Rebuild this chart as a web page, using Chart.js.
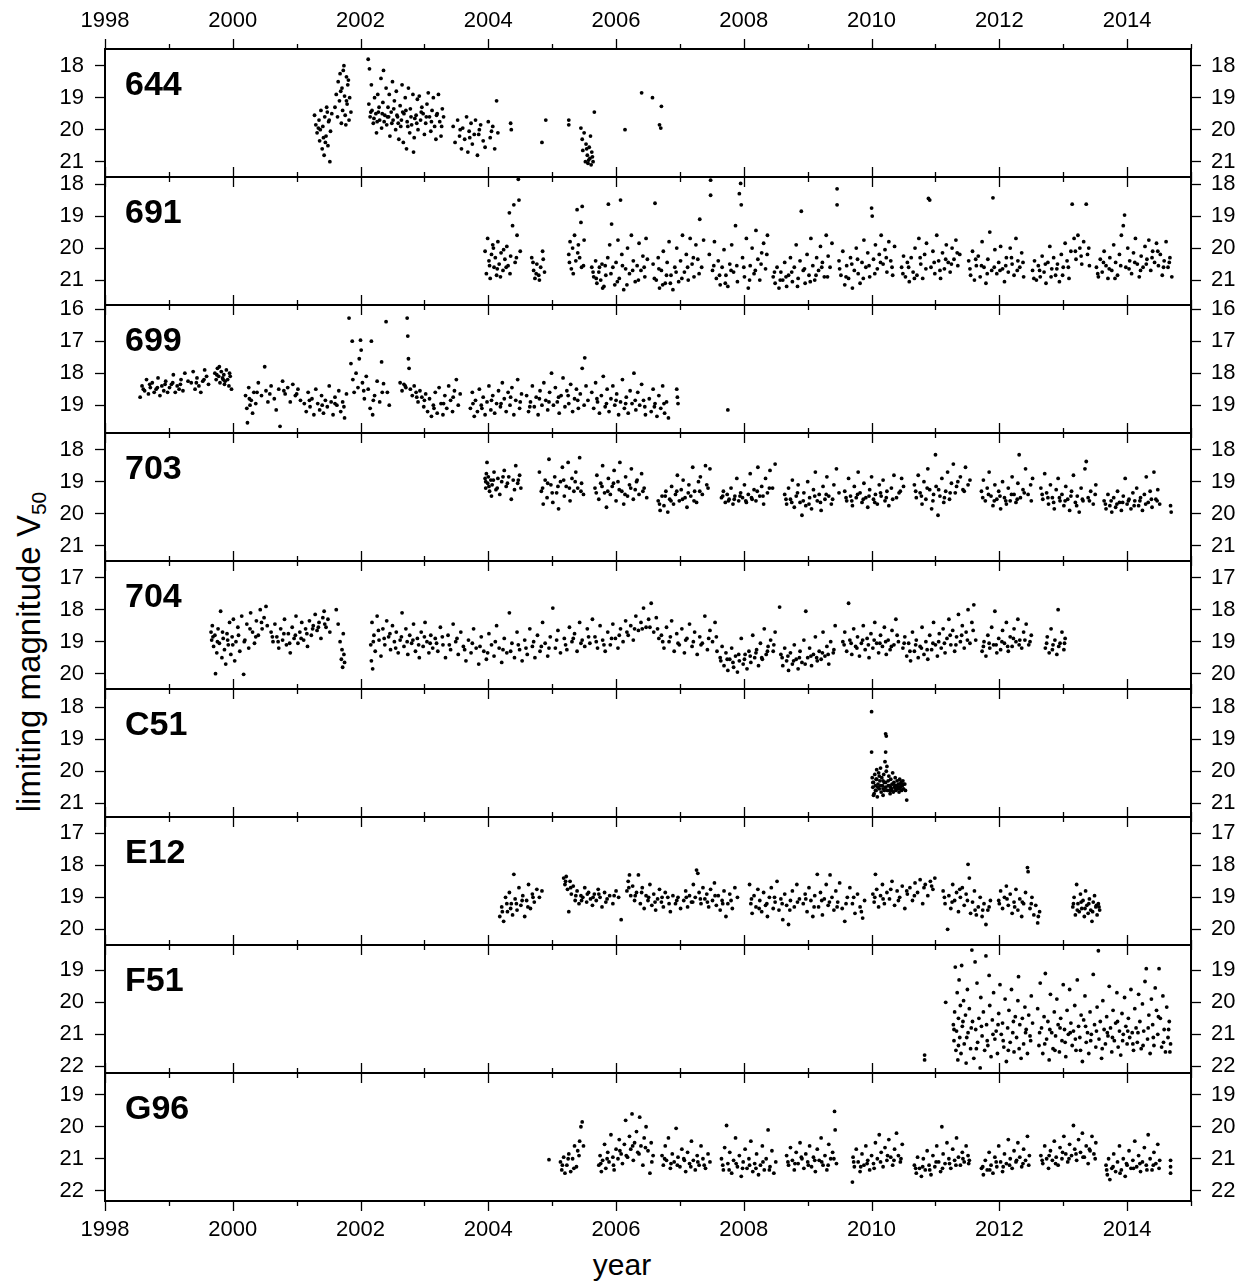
<!DOCTYPE html>
<html>
<head>
<meta charset="utf-8">
<script src="https://cdn.jsdelivr.net/npm/chart.js@4.4.1/dist/chart.umd.min.js"></script>
<style>
  body { margin: 0; background: #fff; width: 1247px; height: 1286px; position: relative; overflow: hidden;
         font-family: "Liberation Sans", Arial, sans-serif; }
  canvas.panel { position: absolute; left: 0; }
  #ylab { position: absolute; left: 30px; top: 652px; transform: translate(-50%, -50%) rotate(-90deg);
          font-size: 33px; white-space: nowrap; color: #000; }
  #ylab sub { font-size: 21px; vertical-align: -6px; }
  #xlab { position: absolute; left: 622px; top: 1250px; transform: translateX(-50%); font-size: 30px; line-height: 30px; color: #000; }
</style>
</head>
<body>
<div id="ylab">limiting magnitude V<sub>50</sub></div>
<div id="xlab">year</div>
<script>
// station codes, top to bottom
const stations = ['644', '691', '699', '703', '704', 'C51', 'E12', 'F51', 'G96'];
// visible magnitude range of each panel (axis is reversed: bright on top)
const magTop    = [17.48, 17.78, 15.87, 17.48, 16.48, 17.43, 16.49, 18.21, 18.32];
const magBottom = [21.48, 21.78, 19.87, 21.48, 20.48, 21.43, 20.49, 22.21, 22.32];
const yearMin = 1998;
const yearMax = 2015;

// [year, limiting magnitude V50]
const obs644 = [
  [2001.28,19.55],[2001.30,19.85],[2001.32,20.1],[2001.35,19.7],[2001.36,20.35],[2001.38,19.4],[2001.40,20.6],[2001.41,19.9],[2001.43,20.8],[2001.44,19.6],
  [2001.46,20.2],[2001.47,19.3],[2001.49,20.5],[2001.50,19.75],[2001.52,21.0],[2001.53,20.05],[2001.55,19.5],[2001.34,19.95],[2001.42,20.25],[2001.48,19.45],
  [2001.60,19.3],[2001.62,18.9],[2001.64,19.6],[2001.65,18.5],[2001.67,19.1],[2001.68,18.25],[2001.70,19.8],[2001.71,18.7],[2001.72,19.4],[2001.74,18.0],
  [2001.75,18.95],[2001.76,19.55],[2001.78,18.35],[2001.79,19.2],[2001.80,18.6],[2001.82,19.7],[2001.83,19.0],[2001.85,19.45],[2001.73,18.15],[2001.77,19.85],
  [2002.12,17.8],[2002.14,18.1],[2002.13,19.2],[2002.15,19.6],[2002.17,18.6],[2002.18,19.4],[2002.20,19.8],[2002.22,19.0],[2002.24,19.5],[2002.25,20.1],
  [2002.27,18.9],[2002.29,19.3],[2002.30,19.7],[2002.32,18.4],[2002.33,19.95],[2002.35,19.15],[2002.36,18.15],[2002.38,19.55],[2002.40,18.7],[2002.41,19.85],
  [2002.43,19.3],[2002.45,18.9],[2002.46,20.2],[2002.48,19.45],[2002.50,18.5],[2002.51,19.7],[2002.53,19.1],[2002.55,20.0],[2002.56,18.8],[2002.58,19.6],
  [2002.60,20.3],[2002.62,19.25],[2002.63,19.9],[2002.65,18.6],[2002.67,20.4],[2002.68,19.5],[2002.70,19.0],[2002.72,20.6],[2002.73,19.75],[2002.75,18.7],
  [2002.77,20.1],[2002.78,19.35],[2002.80,19.85],[2002.82,18.9],[2002.83,20.7],[2002.84,20.25],[2002.87,19.55],[2002.89,19.05],[2002.90,20.0],[2002.92,18.95],
  [2002.94,19.7],[2002.96,19.3],[2003.00,20.15],[2003.02,19.8],[2003.04,19.2],[2003.06,18.85],[2003.08,19.6],[2003.10,20.05],[2003.12,19.4],[2003.14,19.0],
  [2003.16,19.9],[2003.18,20.3],[2003.20,19.5],[2003.22,18.9],[2003.24,19.75],[2003.26,20.2],[2003.28,19.35],[2003.30,19.6],
  [2002.21,19.65],[2002.28,19.45],[2002.37,19.75],[2002.44,19.6],[2002.52,19.35],[2002.59,19.8],[2002.66,19.45],[2002.74,19.9],[2002.85,19.65],[2002.98,19.5],
  [2003.45,19.9],[2003.48,20.4],[2003.52,19.7],[2003.55,20.2],[2003.58,20.6],[2003.60,19.95],[2003.63,20.3],[2003.66,19.6],[2003.68,20.7],[2003.70,20.05],
  [2003.73,19.8],[2003.75,20.45],[2003.78,20.15],[2003.80,19.7],[2003.83,20.8],[2003.86,20.0],[2003.88,19.85],[2003.92,20.35],[2003.95,20.55],[2004.00,19.75],
  [2004.03,20.25],[2004.07,19.9],[2004.10,20.6],[2004.13,19.1],[2004.15,20.1],[2004.35,19.8],[2004.36,20.0],
  [2004.84,20.4],[2004.90,19.7],[2005.26,19.7],[2005.26,19.85],
  [2005.45,19.95],[2005.47,20.3],[2005.48,20.65],[2005.50,20.1],[2005.52,21.0],[2005.53,20.45],[2005.55,20.8],[2005.56,21.05],[2005.58,20.55],[2005.59,20.9],
  [2005.61,21.1],[2005.62,20.7],[2005.64,21.0],[2005.66,19.45],[2005.60,20.2],
  [2006.14,20.0],[2006.40,18.85],[2006.57,19.0],[2006.71,19.27],[2006.68,19.85],[2006.70,19.95],
  [2001.37,20.0],[2001.45,20.4],[2001.51,19.7],[2001.69,18.8],[2001.78,19.1],[2001.81,18.45],
  [2002.16,19.45],[2002.26,19.75],[2002.34,19.5],[2002.42,19.6],[2002.49,19.8],[2002.57,19.55],[2002.64,19.7],[2002.71,19.4],[2002.79,19.6],[2002.88,19.8],
  [2002.95,19.45],[2003.03,19.6],[2003.11,19.75],[2003.19,19.55],[2003.27,19.9],
  [2003.56,20.0],[2003.71,20.25],[2003.85,20.15],[2004.05,20.05],[2005.57,20.95],[2005.63,20.85],[2005.54,20.6]
];

const obs691 = [
  [2003.95,20.1],[2003.97,20.8],[2003.99,19.7],[2004.01,20.4],[2004.03,20.95],[2004.05,20.2],[2004.07,19.9],[2004.09,20.6],[2004.11,20.3],[2004.13,20.85],
  [2004.15,19.8],[2004.17,20.5],[2004.20,20.15],[2004.23,20.7],[2004.26,20.35],[2004.29,19.95],[2004.31,20.55],[2004.33,18.9],[2004.35,20.25],[2004.38,19.3],
  [2004.40,18.65],[2004.42,20.45],[2004.45,19.6],[2004.47,17.85],[2004.48,18.5],[2004.50,20.1],
  [2004.68,20.3],[2004.71,20.7],[2004.73,20.95],[2004.76,20.5],[2004.79,20.85],[2004.82,20.6],[2004.85,20.1],[2004.88,20.75],
  [2005.26,20.2],[2005.28,19.8],[2005.30,20.65],[2005.32,20.0],[2005.35,19.6],[2005.37,20.4],[2005.39,18.8],[2005.41,19.9],[2005.43,20.3],[2005.45,19.2],
  [2005.47,18.7],[2005.49,20.55],[2005.50,19.75],
  [2005.62,20.6],[2005.65,20.9],[2005.68,20.4],[2005.70,21.1],[2005.73,20.75],[2005.76,21.0],[2005.78,20.5],[2005.81,21.2],[2005.84,20.85],[2005.87,20.3],
  [2005.88,18.63],[2005.90,19.9],[2005.93,19.25],[2005.95,20.6],[2005.98,21.15],[2006.00,20.45],[2006.03,19.75],[2006.05,20.95],[2006.07,18.5],[2006.09,20.2],
  [2006.12,21.3],[2006.15,20.65],[2006.18,20.0],[2006.21,20.8],[2006.24,19.6],[2006.27,20.4],[2006.30,21.05],[2006.33,20.55],[2006.36,19.85],[2006.39,20.7],
  [2006.42,20.25],[2006.45,20.9],[2006.47,19.7],[2006.49,20.35],
  [2006.58,20.5],[2006.61,18.6],[2006.63,21.0],[2006.66,20.3],[2006.68,21.25],[2006.71,20.7],[2006.74,20.1],[2006.77,21.1],[2006.80,20.45],[2006.83,19.8],
  [2006.86,20.85],[2006.89,21.3],[2006.92,20.6],[2006.95,20.0],[2006.98,21.05],[2007.01,20.4],[2007.04,19.6],[2007.07,20.75],[2007.10,20.2],[2007.13,21.0],
  [2007.16,19.7],[2007.19,20.5],[2007.22,20.9],[2007.25,19.9],[2007.28,20.35],[2007.31,19.1],[2007.34,20.6],[2007.37,19.75],
  [2007.46,20.2],[2007.48,18.35],[2007.48,17.88],[2007.51,20.7],[2007.54,19.8],[2007.57,20.95],[2007.60,20.4],[2007.63,21.15],[2007.66,20.6],[2007.69,20.05],
  [2007.72,20.85],[2007.75,21.2],[2007.78,20.5],[2007.81,19.9],[2007.84,20.75],[2007.87,19.3],[2007.90,21.05],[2007.93,18.3],[2007.95,17.98],[2007.96,18.65],
  [2007.98,20.3],[2008.01,20.9],[2008.04,19.7],[2008.07,21.25],[2008.10,20.55],[2008.13,20.0],[2008.16,20.8],[2008.19,19.45],[2008.22,20.35],[2008.25,21.0],
  [2008.28,20.15],[2008.31,19.85],[2008.34,20.65],[2008.37,19.6],
  [2008.46,20.9],[2008.49,21.1],[2008.52,20.6],[2008.55,21.25],[2008.58,20.75],[2008.61,21.0],[2008.64,20.45],[2008.67,21.2],[2008.70,20.85],[2008.73,20.3],
  [2008.76,21.05],[2008.79,20.6],[2008.82,19.9],[2008.85,20.95],[2008.88,20.4],[2008.90,18.85],[2008.93,20.7],[2008.96,21.1],[2008.99,20.2],[2009.02,20.85],
  [2009.05,19.7],[2009.08,20.55],[2009.11,21.0],[2009.14,20.3],[2009.17,20.7],[2009.20,19.95],[2009.23,20.45],[2009.26,20.9],[2009.29,19.6],[2009.32,20.25],
  [2009.35,20.6],[2009.38,19.85],
  [2009.46,18.15],[2009.46,18.65],[2009.49,20.4],[2009.52,20.85],[2009.55,20.1],[2009.58,21.15],[2009.61,20.55],[2009.64,20.95],[2009.67,20.3],[2009.70,21.25],
  [2009.73,20.7],[2009.76,20.0],[2009.79,20.8],[2009.82,21.1],[2009.85,20.45],[2009.88,19.75],[2009.91,20.6],[2009.94,20.15],[2009.97,20.9],[2010.00,18.75],
  [2010.01,19.0],[2010.03,20.35],[2010.06,19.9],[2010.09,20.65],[2010.12,20.2],[2010.15,19.6],[2010.18,20.5],[2010.21,20.05],[2010.24,20.75],[2010.27,19.8],
  [2010.30,20.4],[2010.33,20.85],[2010.36,19.95],
  [2010.47,20.6],[2010.50,20.25],[2010.53,20.9],[2010.56,20.45],[2010.59,21.05],[2010.62,20.3],[2010.65,20.75],[2010.68,20.0],[2010.71,20.85],[2010.74,19.7],
  [2010.77,20.5],[2010.80,20.95],[2010.83,20.2],[2010.86,19.85],[2010.89,18.45],[2010.91,18.5],[2010.93,20.6],[2010.96,20.1],[2010.99,20.8],[2011.02,19.6],
  [2011.05,20.4],[2011.08,20.95],[2011.11,20.15],[2011.14,20.65],[2011.17,19.9],[2011.20,20.45],[2011.23,20.75],[2011.26,20.0],[2011.29,20.35],[2011.32,19.75],
  [2011.35,20.55],[2011.38,20.2],
  [2011.52,20.4],[2011.55,20.85],[2011.58,20.1],[2011.61,21.0],[2011.64,20.55],[2011.67,20.25],[2011.70,20.9],[2011.73,19.8],[2011.76,20.6],[2011.79,21.1],
  [2011.82,20.35],[2011.85,19.5],[2011.88,20.7],[2011.90,18.43],[2011.93,20.05],[2011.96,20.8],[2011.99,20.45],[2012.02,19.95],[2012.05,20.65],[2012.08,21.05],
  [2012.11,20.3],[2012.14,20.75],[2012.17,20.0],[2012.20,20.5],[2012.23,20.85],[2012.26,19.7],[2012.29,20.4],[2012.32,20.6],[2012.35,20.15],[2012.38,20.9],
  [2012.52,20.7],[2012.55,20.4],[2012.58,21.0],[2012.61,20.55],[2012.64,20.9],[2012.67,20.25],[2012.70,20.75],[2012.73,21.1],[2012.76,20.45],[2012.79,19.95],
  [2012.82,20.65],[2012.85,20.3],[2012.88,20.85],[2012.91,20.5],[2012.94,21.05],[2012.97,20.2],[2013.00,20.6],[2013.03,19.85],[2013.06,20.4],[2013.09,20.95],
  [2013.12,20.1],[2013.14,18.63],[2013.17,19.7],[2013.20,20.35],[2013.23,19.6],[2013.26,20.0],[2013.29,20.5],[2013.32,19.8],[2013.36,18.63],[2013.38,20.2],
  [2013.41,20.55],
  [2013.52,20.6],[2013.55,20.9],[2013.58,20.35],[2013.61,20.75],[2013.64,20.1],[2013.67,20.55],[2013.70,20.95],[2013.73,20.3],[2013.76,20.7],[2013.79,19.9],
  [2013.82,20.45],[2013.85,20.85],[2013.88,20.2],[2013.91,19.6],[2013.94,19.3],[2013.96,18.97],[2013.98,20.6],[2014.01,20.0],[2014.04,20.4],[2014.07,20.8],
  [2014.10,20.15],[2014.13,19.7],[2014.16,20.5],[2014.19,20.9],[2014.22,20.25],[2014.25,20.6],[2014.28,19.95],[2014.31,20.35],[2014.34,19.75],[2014.37,20.7],
  [2014.40,20.1],[2014.43,20.45],[2014.46,19.85],[2014.49,20.55],[2014.52,20.2],[2014.55,20.85],[2014.58,20.4],[2014.61,19.8],[2014.64,20.6],[2014.67,20.3],
  [2014.70,20.9],
  [2004.02,20.55],[2004.08,20.0],[2004.14,20.65],[2004.19,20.9],[2004.24,20.05],[2004.28,20.6],[2004.34,20.8],[2004.44,20.3],
  [2004.70,20.45],[2004.75,20.8],[2004.80,21.0],[2004.86,20.35],[2005.27,20.45],[2005.33,20.8],[2005.40,20.15],[2005.46,20.6],
  [2005.64,20.75],[2005.69,20.95],[2005.74,20.6],[2005.79,21.25],[2005.83,20.55],[2005.92,20.8],[2006.02,21.05],[2006.10,20.55],[2006.17,21.15],[2006.26,20.7],
  [2006.35,21.0],[2006.44,20.6],[2006.60,20.95],[2006.67,20.65],[2006.73,21.15],[2006.79,20.85],[2006.85,21.1],[2006.94,20.75],[2007.03,20.95],[2007.12,20.6],
  [2007.21,20.3],[2007.30,20.8],[2007.53,20.55],[2007.62,20.85],[2007.71,21.1],[2007.80,20.7],[2007.89,20.55],[2008.00,20.6],[2008.09,21.0],[2008.18,20.7],
  [2008.27,20.5],[2008.36,20.2],[2008.48,20.75],[2008.57,21.0],[2008.66,20.9],[2008.75,20.75],[2008.84,21.2],[2008.95,20.65],[2009.04,21.05],[2009.13,20.85],
  [2009.22,20.6],[2009.31,20.9],[2009.50,20.65],[2009.60,20.9],[2009.69,20.5],[2009.78,20.35],[2009.87,20.95],[2009.96,20.55],[2010.05,20.8],[2010.14,20.45],
  [2010.23,20.3],[2010.32,20.6],[2010.49,20.8],[2010.58,20.6],[2010.67,20.95],[2010.76,20.3],[2010.85,20.65],[2010.98,20.45],[2011.07,20.7],[2011.16,20.35],
  [2011.25,20.5],[2011.34,20.15],[2011.54,20.65],[2011.63,20.35],[2011.72,20.55],[2011.81,20.8],[2011.92,20.6],[2012.01,20.7],[2012.10,20.55],[2012.19,20.3],
  [2012.28,20.7],[2012.37,20.45],[2012.54,20.95],[2012.63,20.7],[2012.72,20.5],[2012.81,20.9],[2012.90,20.65],[2012.99,20.85],[2013.08,20.6],[2013.19,20.1],
  [2013.28,20.25],[2013.40,20.0],[2013.54,20.8],[2013.63,20.45],[2013.72,20.65],[2013.81,20.95],[2013.90,20.55],[2014.03,20.65],[2014.12,20.45],[2014.21,20.7],
  [2014.30,20.5],[2014.39,20.3],[2014.48,20.1],[2014.57,20.6],[2014.66,20.45]
];

const obs699 = [
  [1998.55,18.75],[1998.58,18.4],[1998.62,18.55],[1998.65,18.2],[1998.68,18.65],[1998.71,18.45],[1998.74,18.3],[1998.77,18.6],[1998.80,18.5],[1998.83,18.15],
  [1998.86,18.7],[1998.89,18.4],[1998.92,18.55],[1998.95,18.25],[1998.98,18.6],[1999.01,18.45],[1999.04,18.35],[1999.07,18.05],[1999.10,18.6],[1999.13,18.4],
  [1999.16,18.5],[1999.19,18.2],[1999.22,18.55],[1999.25,18.0],
  [1999.35,18.3],[1999.38,17.95],[1999.41,18.5],[1999.44,18.15],[1999.47,18.4],[1999.50,18.6],[1999.53,18.25],[1999.56,17.9],[1999.59,18.1],[1999.62,18.35],
  [1999.72,18.0],[1999.74,18.2],[1999.76,17.85],[1999.78,18.1],[1999.80,18.3],[1999.82,17.95],[1999.84,18.15],[1999.86,18.05],[1999.88,18.25],[1999.90,17.9],
  [1999.92,18.2],[1999.94,18.4],[1999.96,18.1],[1999.98,18.5],[1999.79,17.8],[1999.87,18.35],
  [2000.20,18.7],[2000.22,19.1],[2000.23,19.55],[2000.25,18.45],[2000.27,19.0],[2000.29,18.85],[2000.31,19.25],[2000.33,18.6],[2000.36,18.95],[2000.40,18.3],
  [2000.45,18.7],[2000.50,17.8],[2000.52,18.55],[2000.55,18.9],[2000.60,18.4],[2000.65,18.8],[2000.68,19.15],[2000.72,18.5],[2000.74,19.66],[2000.78,18.25],
  [2000.82,18.65],[2000.86,18.45],[2000.90,18.9],[2000.94,18.35],[2000.98,18.7],[2001.02,18.5],[2001.06,18.85],
  [2001.12,18.95],[2001.15,19.2],[2001.18,18.6],[2001.21,19.05],[2001.24,18.8],[2001.27,19.3],[2001.30,18.5],[2001.33,18.95],[2001.36,19.15],[2001.39,18.7],
  [2001.42,19.25],[2001.45,18.85],[2001.48,19.05],[2001.51,18.4],[2001.54,18.9],[2001.57,19.3],[2001.60,18.75],[2001.63,19.0],[2001.66,18.55],[2001.69,19.2],
  [2001.72,18.9],[2001.75,19.4],[2001.78,18.65],
  [2001.82,16.28],[2001.85,17.7],[2001.87,17.0],[2001.88,18.2],[2001.90,18.6],[2001.93,18.0],[2001.96,18.45],[2001.98,17.55],[2002.00,16.97],[2002.01,17.28],
  [2002.03,18.3],[2002.06,18.8],[2002.09,18.1],[2002.12,18.5],[2002.15,19.1],[2002.17,17.0],[2002.19,19.3],[2002.22,18.7],[2002.26,18.25],[2002.30,18.9],
  [2002.33,17.65],[2002.36,18.33],[2002.40,16.39],[2002.42,18.6],[2002.45,19.0],
  [2002.62,18.3],[2002.65,18.55],[2002.68,18.35],[2002.71,18.45],[2002.73,16.28],[2002.74,16.84],[2002.75,17.55],[2002.76,17.85],[2002.78,18.5],[2002.81,18.7],
  [2002.84,18.4],[2002.87,18.6],[2002.90,18.9],[2002.93,18.55],[2002.96,18.75],[2002.99,19.05],[2003.02,18.65],[2003.05,19.2],[2003.08,18.8],[2003.11,19.35],
  [2003.14,19.0],[2003.17,18.6],[2003.20,19.25],[2003.23,18.45],[2003.26,18.95],[2003.29,19.3],[2003.32,18.7],[2003.35,19.1],[2003.38,18.4],[2003.41,18.85],
  [2003.44,19.2],[2003.47,18.55],[2003.50,18.2],[2003.53,19.0],[2003.56,18.65],
  [2003.72,19.1],[2003.75,18.6],[2003.78,19.35],[2003.80,18.85],[2003.83,19.2],[2003.86,18.5],[2003.89,19.0],[2003.92,18.75],[2003.95,19.3],[2003.98,18.9],
  [2004.01,18.4],[2004.04,19.15],[2004.07,18.7],[2004.10,19.25],[2004.13,18.95],[2004.16,18.55],[2004.19,19.05],[2004.22,18.3],[2004.25,18.8],[2004.28,19.2],
  [2004.31,18.6],[2004.34,19.0],[2004.37,18.45],[2004.40,19.3],[2004.43,18.85],[2004.46,18.2],[2004.49,19.1],[2004.52,18.65],
  [2004.60,18.7],[2004.63,19.2],[2004.66,18.9],[2004.69,18.4],[2004.72,19.05],[2004.75,18.75],[2004.78,19.3],[2004.81,18.55],[2004.84,19.0],[2004.87,18.3],
  [2004.90,18.85],[2004.93,19.15],[2004.96,18.6],[2004.99,18.0],[2005.02,19.0],[2005.05,18.45],[2005.08,18.9],[2005.11,19.25],[2005.14,18.7],[2005.17,18.15],
  [2005.20,19.05],[2005.23,18.55],[2005.26,18.95],[2005.29,18.35],[2005.32,19.2],[2005.35,18.8],[2005.38,18.5],[2005.41,19.1],[2005.44,18.65],[2005.47,17.85],
  [2005.50,19.0],[2005.51,17.52],[2005.53,18.4],[2005.56,18.85],
  [2005.62,18.6],[2005.65,19.1],[2005.68,18.3],[2005.71,18.9],[2005.74,19.25],[2005.77,18.7],[2005.80,18.1],[2005.83,19.05],[2005.86,18.5],[2005.89,19.2],
  [2005.92,18.8],[2005.95,18.4],[2005.98,19.0],[2006.01,18.65],[2006.04,19.3],[2006.07,18.9],[2006.10,18.2],[2006.13,19.1],[2006.16,18.75],[2006.19,19.25],
  [2006.22,18.55],[2006.25,18.95],[2006.28,18.0],[2006.31,19.15],[2006.34,18.6],[2006.37,19.0],[2006.40,18.35],[2006.43,18.85],[2006.46,19.3],
  [2006.52,18.8],[2006.55,19.2],[2006.58,18.5],[2006.61,18.95],[2006.64,19.35],[2006.67,18.7],[2006.70,19.1],[2006.73,18.4],[2006.76,19.25],[2006.79,18.9],
  [2006.82,19.4],[2006.95,18.5],[2006.96,18.75],[2006.97,18.95],[2007.75,19.15],
  [1998.60,18.5],[1998.70,18.35],[1998.82,18.45],[1998.94,18.35],[1999.06,18.3],[1999.18,18.35],[1999.30,18.25],[1999.43,18.3],[1999.55,18.2],[1999.75,18.05],
  [1999.85,18.2],[1999.95,18.0],[2000.26,18.8],[2000.38,18.6],[2000.58,18.65],[2000.80,18.55],[2001.00,18.65],[2001.20,18.85],[2001.40,19.0],[2001.60,18.95],
  [2001.74,19.05],[2002.05,18.55],[2002.20,18.85],[2002.34,18.6],[2002.70,18.4],[2002.88,18.75],[2003.00,18.85],[2003.15,19.1],[2003.30,18.95],[2003.45,18.75],
  [2003.76,18.95],[2003.90,19.1],[2004.05,18.85],[2004.20,18.95],[2004.35,18.75],[2004.50,18.9],[2004.65,19.05],[2004.80,18.8],[2004.95,18.9],[2005.10,18.75],
  [2005.25,18.7],[2005.40,18.85],[2005.70,18.8],[2005.85,18.95],[2006.00,18.85],[2006.15,18.95],[2006.30,18.85],[2006.45,19.05],[2006.60,19.05],[2006.75,18.95]
];

const obs703 = [
  [2003.95,18.9],[2003.96,19.2],[2003.97,18.75],[2003.98,18.4],[2003.99,19.05],[2004.00,18.85],[2004.02,19.3],[2004.04,18.95],[2004.06,19.1],[2004.09,18.7],
  [2004.12,19.25],[2004.15,18.9],[2004.18,19.4],[2004.21,19.0],[2004.25,18.65],[2004.28,19.15],[2004.32,18.85],[2004.36,19.55],[2004.39,18.95],[2004.43,18.5],
  [2004.46,19.05],[2004.49,18.8],[2004.51,19.2],[2004.05,19.45],
  [2004.80,18.7],[2004.83,19.3],[2004.86,19.7],[2004.89,18.95],[2004.92,19.5],[2004.95,18.3],[2004.98,19.1],[2005.01,19.65],[2005.04,18.85],[2005.07,19.35],
  [2005.10,19.85],[2005.13,19.0],[2005.16,18.55],[2005.19,19.45],[2005.22,19.15],[2005.25,18.4],[2005.28,19.6],[2005.31,18.9],[2005.34,19.3],[2005.37,18.7],
  [2005.40,19.2],[2005.43,18.25],[2005.46,19.05],[2005.49,19.4],
  [2005.67,19.2],[2005.70,18.8],[2005.73,19.55],[2005.76,19.05],[2005.79,18.5],[2005.82,19.35],[2005.85,19.8],[2005.88,18.9],[2005.91,19.4],[2005.94,19.15],
  [2005.97,18.65],[2006.00,19.6],[2006.03,19.0],[2006.06,18.4],[2006.09,19.3],[2006.12,19.7],[2006.15,18.85],[2006.18,19.45],[2006.21,19.1],[2006.24,18.6],
  [2006.27,19.55],[2006.30,19.25],[2006.33,18.95],[2006.36,19.4],[2006.40,18.75],[2006.44,19.2],[2006.48,19.5],
  [2006.66,19.6],[2006.69,19.9],[2006.72,19.45],[2006.75,19.75],[2006.78,19.3],[2006.81,19.95],[2006.84,19.55],[2006.87,19.15],[2006.90,19.7],[2006.93,19.4],
  [2006.96,18.8],[2006.99,19.6],[2007.02,19.25],[2007.05,18.95],[2007.08,19.5],[2007.11,19.8],[2007.14,19.1],[2007.17,19.45],[2007.20,18.55],[2007.23,19.3],
  [2007.26,19.65],[2007.29,19.0],[2007.32,18.85],[2007.35,19.4],[2007.40,18.5],[2007.44,19.2],[2007.47,18.6],
  [2007.65,19.5],[2007.68,19.3],[2007.71,19.65],[2007.74,19.4],[2007.77,19.55],[2007.80,19.2],[2007.83,19.7],[2007.86,19.45],[2007.89,18.9],[2007.92,19.6],
  [2007.95,19.35],[2007.98,19.5],[2008.01,19.1],[2008.04,19.65],[2008.07,19.4],[2008.10,18.75],[2008.13,19.55],[2008.16,19.25],[2008.19,19.6],[2008.22,18.55],
  [2008.25,19.45],[2008.28,19.15],[2008.31,19.7],[2008.34,18.9],[2008.37,19.35],[2008.41,18.65],[2008.45,19.2],[2008.49,18.45],
  [2008.64,19.4],[2008.67,19.7],[2008.70,19.2],[2008.73,19.55],[2008.76,18.95],[2008.79,19.8],[2008.82,19.45],[2008.85,19.1],[2008.88,19.65],[2008.91,20.05],
  [2008.94,19.35],[2008.97,19.75],[2009.00,19.0],[2009.03,19.5],[2009.06,19.85],[2009.09,19.25],[2009.12,18.7],[2009.15,19.6],[2009.18,19.4],[2009.21,19.9],
  [2009.24,19.15],[2009.27,19.55],[2009.30,18.85],[2009.33,19.45],[2009.37,19.7],[2009.41,19.1],[2009.45,18.6],[2009.49,19.35],
  [2009.58,19.3],[2009.61,19.6],[2009.64,18.9],[2009.67,19.45],[2009.70,19.75],[2009.73,19.15],[2009.76,19.5],[2009.79,18.7],[2009.82,19.35],[2009.85,19.65],
  [2009.88,19.05],[2009.91,19.5],[2009.94,19.8],[2009.97,19.25],[2010.00,18.85],[2010.03,19.55],[2010.06,19.4],[2010.09,19.7],[2010.12,19.1],[2010.15,19.45],
  [2010.18,18.95],[2010.21,19.6],[2010.24,19.3],[2010.27,19.75],[2010.31,19.2],[2010.35,18.8],[2010.39,19.5],[2010.43,19.35],[2010.47,18.9],[2010.50,19.15],
  [2010.67,19.1],[2010.70,19.5],[2010.73,18.8],[2010.76,19.35],[2010.79,19.7],[2010.82,19.0],[2010.85,19.55],[2010.88,18.6],[2010.91,19.25],[2010.94,19.85],
  [2010.97,19.4],[2011.00,18.16],[2011.01,19.15],[2011.04,20.05],[2011.07,19.45],[2011.10,18.9],[2011.13,19.65],[2011.16,19.3],[2011.19,18.7],[2011.22,19.55],
  [2011.25,19.05],[2011.28,18.45],[2011.31,19.35],[2011.35,19.0],[2011.39,18.85],[2011.43,19.25],[2011.47,18.55],[2011.51,19.1],[2011.54,18.95],
  [2011.72,19.3],[2011.75,18.95],[2011.78,19.6],[2011.81,19.2],[2011.84,18.7],[2011.87,19.45],[2011.90,19.75],[2011.93,19.1],[2011.96,19.55],[2011.99,19.3],
  [2012.02,19.85],[2012.05,19.0],[2012.08,19.5],[2012.11,19.7],[2012.14,19.2],[2012.17,19.6],[2012.20,18.85],[2012.23,19.4],[2012.26,19.65],[2012.29,19.05],
  [2012.31,18.16],[2012.33,19.5],[2012.37,19.25],[2012.41,18.6],[2012.45,19.4],[2012.49,19.1],[2012.52,18.9],
  [2012.65,19.2],[2012.68,19.55],[2012.71,18.75],[2012.74,19.35],[2012.77,19.7],[2012.80,19.1],[2012.83,19.5],[2012.86,19.85],[2012.89,19.25],[2012.92,18.9],
  [2012.95,19.6],[2012.98,19.4],[2013.01,19.75],[2013.04,19.15],[2013.07,19.55],[2013.10,19.9],[2013.13,19.3],[2013.16,18.8],[2013.19,19.65],[2013.22,19.45],
  [2013.25,19.95],[2013.28,19.2],[2013.31,19.6],[2013.34,18.6],[2013.36,18.37],[2013.39,19.5],[2013.43,19.3],[2013.47,19.7],[2013.51,19.1],
  [2013.64,19.6],[2013.67,19.85],[2013.70,19.4],[2013.73,19.75],[2013.76,19.95],[2013.79,19.5],[2013.82,19.8],[2013.85,19.3],[2013.88,19.65],[2013.91,19.9],
  [2013.94,19.45],[2013.97,18.9],[2014.00,19.7],[2014.03,19.55],[2014.06,19.85],[2014.09,19.35],[2014.12,19.6],[2014.15,19.2],[2014.18,19.75],[2014.21,19.5],
  [2014.24,19.9],[2014.27,19.4],[2014.30,18.85],[2014.33,19.65],[2014.36,19.3],[2014.39,19.8],[2014.42,18.7],[2014.45,19.55],[2014.48,19.25],[2014.51,19.7],
  [2014.68,19.75],[2014.69,19.95],
  [2003.96,19.0],[2004.01,19.15],[2004.08,18.95],[2004.14,19.2],[2004.23,18.85],[2004.30,19.05],[2004.41,19.25],[2004.47,18.95],
  [2004.85,19.2],[2004.93,19.05],[2005.00,19.35],[2005.09,19.15],[2005.18,18.95],[2005.27,19.2],[2005.36,19.0],[2005.45,19.3],
  [2005.69,19.35],[2005.78,19.15],[2005.87,19.3],[2005.96,19.05],[2006.05,19.25],[2006.14,19.4],[2006.23,19.2],[2006.32,19.0],[2006.42,19.3],
  [2006.68,19.7],[2006.77,19.45],[2006.86,19.6],[2006.95,19.3],[2007.04,19.55],[2007.13,19.35],[2007.22,19.6],[2007.31,19.3],[2007.42,19.1],
  [2007.67,19.45],[2007.76,19.6],[2007.85,19.55],[2007.94,19.45],[2008.03,19.6],[2008.12,19.5],[2008.21,19.3],[2008.30,19.45],[2008.40,19.2],
  [2008.66,19.55],[2008.75,19.65],[2008.84,19.35],[2008.93,19.6],[2009.02,19.7],[2009.11,19.45],[2009.20,19.65],[2009.29,19.4],[2009.39,19.55],
  [2009.60,19.5],[2009.69,19.6],[2009.78,19.4],[2009.87,19.55],[2009.96,19.45],[2010.05,19.65],[2010.14,19.35],[2010.23,19.5],[2010.33,19.55],[2010.45,19.3],
  [2010.69,19.3],[2010.78,19.45],[2010.87,19.2],[2010.96,19.6],[2011.05,19.25],[2011.14,19.5],[2011.23,19.35],[2011.33,19.15],[2011.45,19.3],
  [2011.74,19.5],[2011.83,19.4],[2011.92,19.6],[2012.01,19.45],[2012.10,19.6],[2012.19,19.4],[2012.28,19.55],[2012.39,19.35],[2012.50,19.6],
  [2012.67,19.4],[2012.76,19.5],[2012.85,19.65],[2012.94,19.5],[2013.03,19.6],[2013.12,19.45],[2013.21,19.75],[2013.30,19.55],[2013.41,19.6],[2013.50,19.4],
  [2013.66,19.7],[2013.75,19.6],[2013.84,19.7],[2013.93,19.65],[2014.02,19.6],[2014.11,19.75],[2014.20,19.6],[2014.29,19.7],[2014.38,19.55],[2014.47,19.6]
];

const obs704 = [
  [1999.66,18.7],[1999.67,18.95],[1999.68,18.5],[1999.70,19.15],[1999.72,18.8],[1999.73,20.0],[1999.75,19.35],[1999.77,18.6],[1999.79,19.05],[1999.81,18.05],
  [1999.83,19.5],[1999.85,18.9],[1999.87,19.25],[1999.89,19.7],[1999.91,18.75],[1999.93,19.1],[1999.95,18.4],[1999.97,19.4],[1999.99,18.85],[2000.01,18.3],
  [2000.03,19.6],[2000.05,19.0],[2000.08,18.55],[2000.11,19.3],[2000.14,18.2],[2000.17,20.02],[2000.19,18.95],[2000.22,18.45],[2000.25,19.2],[2000.28,18.1],
  [2000.31,18.7],[2000.34,19.05],[2000.37,18.35],[2000.40,18.8],[2000.43,18.0],[2000.46,18.6],[2000.49,18.25],[2000.52,17.9],[2000.54,18.5],
  [2000.60,18.7],[2000.63,19.0],[2000.66,18.45],[2000.69,18.85],[2000.72,19.2],[2000.75,18.6],[2000.78,18.95],[2000.81,18.3],[2000.84,19.1],[2000.87,18.75],
  [2000.90,19.35],[2000.93,18.55],[2000.96,18.9],[2000.99,18.2],[2001.02,19.05],[2001.05,18.7],[2001.08,18.4],[2001.11,18.95],[2001.14,18.6],[2001.17,19.15],
  [2001.20,18.35],[2001.23,18.8],[2001.26,18.5],[2001.29,18.15],[2001.32,18.65],[2001.35,18.4],[2001.38,18.9],[2001.41,18.25],[2001.43,18.05],[2001.46,18.55],
  [2001.49,18.3],[2001.52,18.7],
  [2001.62,18.0],[2001.65,18.45],[2001.68,19.0],[2001.70,19.55],[2001.71,19.25],[2001.72,19.8],[2001.73,18.75],[2001.74,19.4],[2001.75,19.65],
  [2002.16,19.1],[2002.17,19.6],[2002.18,18.4],[2002.19,19.85],[2002.21,18.8],[2002.23,19.3],[2002.26,18.2],[2002.29,18.95],[2002.32,19.45],[2002.35,18.6],
  [2002.38,19.1],[2002.41,18.35],[2002.44,18.85],[2002.47,19.25],[2002.50,18.5],[2002.53,19.0],[2002.56,18.7],[2002.59,19.35],[2002.62,18.95],[2002.65,18.1],
  [2002.68,19.15],[2002.71,18.6],[2002.74,19.4],[2002.77,18.8],[2002.80,19.05],[2002.83,18.45],[2002.86,19.3],[2002.89,18.9],[2002.92,19.5],[2002.95,18.7],
  [2002.98,19.15],[2003.01,18.4],[2003.04,19.0],[2003.07,19.35],[2003.10,18.8],[2003.13,19.2],
  [2003.17,18.9],[2003.21,19.3],[2003.25,18.55],[2003.29,19.1],[2003.33,19.5],[2003.37,18.8],[2003.41,19.25],[2003.45,18.45],[2003.49,19.0],[2003.53,19.4],
  [2003.57,18.7],[2003.61,19.15],[2003.65,19.6],[2003.69,18.95],[2003.73,19.35],[2003.77,18.6],[2003.81,19.2],[2003.85,19.7],[2003.89,18.85],[2003.93,19.3],
  [2003.97,19.55],[2004.01,18.75],[2004.05,19.1],[2004.09,19.45],[2004.13,18.5],[2004.17,19.2],[2004.21,19.65],[2004.25,18.9],[2004.29,19.35],[2004.33,18.1],
  [2004.37,19.05],[2004.41,19.5],[2004.45,18.7],[2004.49,19.25],[2004.53,19.6],[2004.57,18.95],[2004.61,19.4],[2004.65,18.6],[2004.69,19.15],[2004.73,19.5],
  [2004.77,18.8],[2004.81,19.3],[2004.85,18.4],[2004.89,19.05],[2004.93,19.45],[2004.97,18.85],[2005.01,17.95],[2005.05,19.2],[2005.09,18.65],[2005.13,19.35],
  [2005.19,18.9],[2005.23,19.25],[2005.27,18.55],[2005.31,19.0],[2005.35,18.75],[2005.39,19.3],[2005.43,18.4],[2005.47,18.95],[2005.51,19.15],[2005.55,18.6],
  [2005.59,19.05],[2005.63,18.3],[2005.67,18.85],[2005.71,19.2],[2005.75,18.5],[2005.79,18.95],[2005.83,19.3],[2005.87,18.7],[2005.91,19.1],[2005.95,18.45],
  [2005.99,18.9],[2006.03,19.2],[2006.07,18.6],[2006.11,19.0],[2006.15,18.35],[2006.19,18.8],[2006.23,18.5],[2006.27,18.95],[2006.31,18.2],[2006.35,18.65],
  [2006.39,18.4],[2006.43,17.95],[2006.47,18.55],[2006.51,18.3],[2006.55,17.8],[2006.59,18.7],[2006.63,18.25],[2006.67,18.9],
  [2006.71,18.8],[2006.75,19.2],[2006.79,18.55],[2006.83,19.0],[2006.87,18.35],[2006.91,19.3],[2006.95,18.75],[2006.99,19.1],[2007.03,18.6],[2007.07,19.35],
  [2007.11,18.9],[2007.15,18.45],[2007.19,19.15],[2007.23,18.7],[2007.27,19.4],[2007.31,18.85],[2007.35,19.05],[2007.39,18.2],[2007.43,19.25],[2007.47,18.65],
  [2007.51,19.0],[2007.55,18.4],[2007.58,19.3],
  [2007.63,19.5],[2007.66,19.15],[2007.69,19.75],[2007.72,19.35],[2007.75,19.9],[2007.78,19.55],[2007.81,19.2],[2007.84,19.8],[2007.87,19.45],[2007.90,19.95],
  [2007.93,19.6],[2007.96,18.9],[2007.99,19.7],[2008.02,19.4],[2008.05,19.85],[2008.08,19.3],[2008.11,19.65],[2008.14,18.8],[2008.17,19.5],[2008.20,19.25],
  [2008.23,19.75],[2008.26,19.05],[2008.29,19.55],[2008.32,18.6],[2008.35,19.4],[2008.38,19.15],[2008.42,18.95],[2008.46,19.3],[2008.49,18.7],
  [2008.56,17.92],[2008.58,19.4],[2008.61,19.75],[2008.64,19.2],[2008.67,19.6],[2008.70,19.9],[2008.73,19.35],[2008.76,19.7],[2008.79,19.1],[2008.82,19.55],
  [2008.85,19.85],[2008.88,19.3],[2008.91,19.65],[2008.94,18.95],[2008.97,18.05],[2009.00,19.5],[2009.03,19.2],[2009.06,19.75],[2009.09,19.4],[2009.12,18.85],
  [2009.15,19.6],[2009.18,19.3],[2009.21,19.55],[2009.24,18.7],[2009.27,19.45],[2009.30,19.15],[2009.33,19.7],[2009.36,19.0],[2009.40,19.35],[2009.43,18.5],
  [2009.55,19.0],[2009.58,18.7],[2009.61,19.3],[2009.64,17.8],[2009.66,18.95],[2009.69,19.4],[2009.72,18.6],[2009.75,19.15],[2009.78,18.85],[2009.81,19.45],
  [2009.84,19.05],[2009.87,18.5],[2009.90,19.25],[2009.93,18.9],[2009.96,19.5],[2009.99,18.75],[2010.02,19.2],[2010.05,18.4],[2010.08,19.05],[2010.11,19.35],
  [2010.14,18.8],[2010.17,19.15],[2010.20,18.55],[2010.23,19.4],[2010.26,18.95],[2010.29,19.25],[2010.32,18.65],[2010.35,19.1],[2010.38,18.3],[2010.42,19.0],
  [2010.49,19.2],[2010.52,18.85],[2010.55,19.45],[2010.58,19.05],[2010.61,19.6],[2010.64,18.7],[2010.67,19.3],[2010.70,18.95],[2010.73,19.5],[2010.76,19.15],
  [2010.79,18.55],[2010.82,19.4],[2010.85,19.0],[2010.88,19.55],[2010.91,18.8],[2010.94,19.25],[2010.97,18.4],[2011.00,19.1],[2011.03,19.45],[2011.06,18.75],
  [2011.09,19.2],[2011.12,18.6],[2011.15,19.35],[2011.18,18.9],[2011.21,18.3],[2011.24,19.1],[2011.27,18.65],[2011.30,19.3],[2011.33,18.85],[2011.36,18.15],
  [2011.39,19.0],[2011.42,18.5],[2011.45,19.2],[2011.48,18.7],[2011.51,18.0],[2011.54,19.05],[2011.57,18.4],[2011.60,17.85],[2011.63,18.95],
  [2011.73,19.3],[2011.76,19.0],[2011.79,19.45],[2011.82,18.8],[2011.85,19.2],[2011.88,18.55],[2011.91,19.1],[2011.93,18.05],[2011.96,19.35],[2011.99,18.9],
  [2012.02,19.25],[2012.05,18.65],[2012.08,19.05],[2012.11,18.4],[2012.14,19.3],[2012.17,18.85],[2012.20,19.15],[2012.23,18.6],[2012.26,19.0],[2012.29,18.3],
  [2012.32,18.95],[2012.35,19.2],[2012.38,18.7],[2012.42,18.45],[2012.46,19.1],[2012.50,18.8],
  [2012.72,19.2],[2012.75,18.85],[2012.78,19.35],[2012.81,18.6],[2012.84,19.1],[2012.87,18.95],[2012.90,19.4],[2012.92,18.0],[2012.95,19.05],[2012.98,18.7],
  [2013.01,19.25],[2013.03,18.9],
  [1999.69,18.85],[1999.76,19.0],[1999.84,18.7],[1999.92,18.95],[2000.00,19.1],[2000.09,18.8],[2000.18,19.0],[2000.27,18.6],[2000.36,18.85],[2000.45,18.4],
  [2000.62,18.85],[2000.71,19.0],[2000.80,18.75],[2000.89,19.05],[2000.98,18.8],[2001.07,18.9],[2001.16,18.75],[2001.25,18.6],[2001.34,18.55],[2001.44,18.45],
  [2002.20,19.0],[2002.28,18.65],[2002.37,18.9],[2002.46,18.75],[2002.55,19.2],[2002.64,18.85],[2002.73,19.0],[2002.82,18.95],[2002.91,19.1],[2003.00,18.85],
  [2003.09,19.05],[2003.19,19.05],[2003.28,18.85],[2003.39,19.1],[2003.51,18.9],[2003.63,19.25],[2003.75,19.05],[2003.87,19.15],[2003.99,19.35],[2004.11,19.0],
  [2004.23,19.25],[2004.35,19.3],[2004.47,19.1],[2004.59,19.2],[2004.71,19.0],[2004.83,19.15],[2004.95,19.2],[2005.07,18.95],
  [2005.21,19.1],[2005.33,18.9],[2005.45,19.05],[2005.57,18.85],[2005.69,19.0],[2005.81,19.1],[2005.93,18.9],[2006.05,18.8],[2006.17,18.7],[2006.29,18.6],
  [2006.41,18.6],[2006.53,18.55],[2006.65,18.6],[2006.73,19.0],[2006.85,18.85],[2006.97,19.05],[2007.09,18.95],[2007.21,19.0],[2007.33,19.1],[2007.45,18.9],
  [2007.57,18.85],[2007.64,19.6],[2007.74,19.55],[2007.83,19.65],[2007.92,19.4],[2008.01,19.55],[2008.10,19.45],[2008.19,19.35],[2008.28,19.5],[2008.37,19.3],
  [2008.47,19.1],[2008.60,19.5],[2008.69,19.45],[2008.78,19.6],[2008.87,19.5],[2008.96,19.7],[2009.05,19.45],[2009.14,19.5],[2009.23,19.35],[2009.32,19.4],
  [2009.41,19.25],[2009.57,19.1],[2009.68,19.05],[2009.77,19.2],[2009.86,18.95],[2009.95,19.1],[2010.04,18.95],[2010.13,19.05],[2010.22,19.0],[2010.31,19.15],
  [2010.40,18.8],[2010.51,19.05],[2010.60,19.3],[2010.69,19.1],[2010.78,19.2],[2010.87,19.25],[2010.96,19.05],[2011.05,19.0],[2011.14,19.05],[2011.23,18.8],
  [2011.32,19.1],[2011.41,18.8],[2011.50,18.95],[2011.59,18.65],[2011.75,19.15],[2011.84,19.05],[2011.95,19.1],[2012.04,19.0],[2012.13,19.15],[2012.22,18.9],
  [2012.31,19.1],[2012.40,18.95],[2012.48,19.0],[2012.74,19.05],[2012.83,19.25],[2012.93,19.15],[2013.02,19.05]
];

const obsC51 = [
  [2010.00,18.14],[2010.22,18.83],[2010.23,18.9],[2010.00,19.4],[2010.22,19.4],
  [2010.01,20.2],[2010.02,20.5],[2010.03,20.35],[2010.04,20.7],[2010.05,20.1],[2010.06,20.45],[2010.07,20.6],[2010.08,20.25],[2010.09,20.8],[2010.10,20.4],
  [2010.11,20.05],[2010.12,20.55],[2010.13,20.3],[2010.14,19.9],[2010.15,20.65],[2010.16,20.2],[2010.17,20.45],[2010.18,20.75],[2010.19,20.1],[2010.20,20.35],
  [2010.21,19.7],[2010.22,20.5],[2010.23,20.0],[2010.24,19.85],[2010.25,20.6],[2010.26,20.3],[2010.27,20.15],[2010.28,20.45],[2010.29,20.7],[2010.30,20.25],
  [2010.31,20.55],[2010.32,20.4],[2010.33,20.05],[2010.34,20.65],[2010.35,20.35],[2010.36,20.5],[2010.37,20.2],[2010.38,20.6],[2010.39,20.45],[2010.40,20.3],
  [2010.41,20.55],[2010.42,20.4],[2010.43,20.65],[2010.44,20.25],[2010.45,20.5],[2010.46,20.35],[2010.47,20.6],[2010.48,20.45],[2010.49,20.3],[2010.50,20.55],
  [2010.52,20.4],[2010.53,20.6],[2010.55,20.9],[2010.03,20.75],[2010.08,19.95],[2010.18,20.55],[2010.28,20.6],[2010.38,20.45],
  [2010.02,20.35],[2010.06,20.6],[2010.10,20.5],[2010.14,20.45],[2010.18,20.3],[2010.22,20.35],[2010.26,20.45],[2010.30,20.5],[2010.34,20.4],[2010.38,20.55],
  [2010.42,20.5],[2010.46,20.45],[2010.50,20.4],[2010.07,20.25],[2010.12,20.15],[2010.20,20.6],[2010.32,20.6],[2010.44,20.55]
];

const obsE12 = [
  [2004.18,19.6],[2004.21,19.3],[2004.24,19.75],[2004.27,19.0],[2004.30,19.45],[2004.33,18.85],[2004.36,19.2],[2004.38,19.55],[2004.40,18.28],[2004.42,19.05],
  [2004.45,19.4],[2004.48,18.7],[2004.51,19.25],[2004.54,18.95],[2004.57,19.6],[2004.60,19.1],[2004.63,18.6],[2004.66,19.35],[2004.69,18.9],[2004.72,19.15],
  [2004.76,18.75],[2004.80,19.0],[2004.84,18.8],
  [2005.18,18.4],[2005.20,18.6],[2005.22,18.35],[2005.24,18.75],[2005.26,19.45],[2005.28,18.5],[2005.30,18.9],[2005.33,18.65],[2005.36,19.1],[2005.39,18.8],
  [2005.42,19.2],[2005.45,18.95],[2005.48,19.0],[2005.51,18.7],[2005.54,19.15],[2005.57,18.85],[2005.60,19.05],[2005.63,19.25],[2005.66,18.9],[2005.69,19.1],
  [2005.72,18.75],[2005.75,19.0],[2005.78,19.3],[2005.82,18.85],[2005.86,19.05],[2005.90,18.95],[2005.95,19.2],[2006.00,18.8],[2006.04,19.0],[2006.08,19.7],
  [2006.17,18.8],[2006.19,18.5],[2006.21,18.3],[2006.23,18.95],[2006.26,18.65],[2006.29,19.1],[2006.32,18.85],[2006.35,18.3],[2006.38,19.2],[2006.41,18.7],
  [2006.44,19.35],[2006.47,18.95],[2006.50,19.1],[2006.53,18.6],[2006.56,19.25],[2006.59,18.9],[2006.62,19.4],[2006.65,19.05],[2006.68,18.75],[2006.71,19.15],
  [2006.74,19.3],[2006.77,18.85],[2006.81,19.0],[2006.85,19.45],[2006.89,18.95],[2006.93,19.2],[2006.97,19.0],[2007.01,19.35],
  [2007.06,19.1],[2007.09,18.8],[2007.12,19.3],[2007.15,18.95],[2007.18,19.15],[2007.21,18.6],[2007.24,19.0],[2007.26,18.15],[2007.28,18.25],[2007.30,18.85],
  [2007.33,19.2],[2007.36,18.7],[2007.39,19.05],[2007.42,18.9],[2007.45,19.3],[2007.48,18.75],[2007.51,19.1],[2007.54,18.55],[2007.57,19.25],[2007.60,18.95],
  [2007.63,19.4],[2007.66,19.1],[2007.69,18.8],[2007.72,19.6],[2007.75,19.2],[2007.78,18.9],[2007.82,19.35],[2007.86,18.7],[2007.90,19.0],
  [2008.09,18.6],[2008.11,19.2],[2008.13,19.5],[2008.16,18.95],[2008.19,19.3],[2008.22,18.75],[2008.25,19.1],[2008.28,19.45],[2008.31,18.85],[2008.34,19.25],
  [2008.37,19.6],[2008.40,19.0],[2008.43,18.7],[2008.46,19.35],[2008.49,19.15],[2008.52,18.5],[2008.55,19.4],[2008.58,19.05],[2008.61,19.7],[2008.64,18.9],
  [2008.67,19.25],[2008.70,19.85],[2008.73,19.1],[2008.76,18.8],[2008.79,19.3],[2008.83,18.6],[2008.87,19.05],
  [2008.93,19.2],[2008.96,18.9],[2008.99,19.45],[2009.02,18.7],[2009.05,19.1],[2009.08,19.6],[2009.11,18.95],[2009.15,18.28],[2009.17,19.3],[2009.20,18.85],
  [2009.23,19.55],[2009.26,19.05],[2009.29,18.6],[2009.32,19.25],[2009.35,18.3],[2009.38,19.0],[2009.41,19.4],[2009.44,18.8],[2009.47,19.15],[2009.50,18.55],
  [2009.54,19.35],[2009.58,19.75],[2009.62,19.0],[2009.66,18.7],[2009.70,19.2],[2009.74,19.5],[2009.78,18.9],[2009.82,19.3],[2009.86,19.65],[2009.89,19.1],
  [2010.02,18.9],[2010.04,19.15],[2010.06,18.28],[2010.08,18.75],[2010.11,19.3],[2010.14,18.95],[2010.17,18.6],[2010.20,19.2],[2010.24,18.85],[2010.28,19.05],
  [2010.32,18.5],[2010.36,19.25],[2010.40,18.8],[2010.44,19.0],[2010.48,18.65],[2010.52,19.35],[2010.56,18.9],[2010.60,18.7],[2010.64,19.1],[2010.68,18.55],
  [2010.72,18.85],[2010.76,18.45],[2010.80,19.2],[2010.84,18.6],[2010.88,18.95],[2010.92,18.5],[2010.96,18.75],[2010.99,18.4],
  [2011.12,18.8],[2011.15,19.2],[2011.19,20.0],[2011.21,18.95],[2011.24,19.35],[2011.27,18.6],[2011.30,19.1],[2011.33,18.85],[2011.36,19.45],[2011.39,19.0],
  [2011.42,18.7],[2011.45,19.25],[2011.48,18.9],[2011.51,17.97],[2011.53,18.4],[2011.55,19.5],[2011.58,19.15],[2011.61,18.8],[2011.64,19.55],[2011.67,19.3],
  [2011.70,19.0],[2011.73,19.6],[2011.76,19.2],[2011.79,19.85],[2011.82,19.4],[2011.86,19.1],
  [2011.99,19.1],[2012.02,18.8],[2012.05,19.35],[2012.08,19.0],[2012.11,18.65],[2012.14,19.25],[2012.17,18.9],[2012.20,19.5],[2012.23,19.15],[2012.26,18.75],
  [2012.29,19.4],[2012.32,19.05],[2012.35,19.6],[2012.38,19.2],[2012.41,18.85],[2012.44,18.07],[2012.45,18.2],[2012.48,19.35],[2012.51,19.0],[2012.54,19.55],
  [2012.57,19.25],[2012.60,19.8],[2012.63,19.45],
  [2013.15,19.3],[2013.17,19.0],[2013.19,19.55],[2013.21,18.6],[2013.23,19.2],[2013.25,19.45],[2013.27,18.9],[2013.29,19.35],[2013.31,19.1],[2013.33,19.6],
  [2013.35,18.8],[2013.37,19.25],[2013.39,19.5],[2013.41,19.05],[2013.43,19.4],[2013.45,19.75],[2013.47,19.15],[2013.49,18.95],[2013.51,19.3],[2013.53,19.55],
  [2013.55,19.2],[2013.57,19.4],
  [2004.22,19.45],[2004.29,19.2],[2004.35,19.35],[2004.44,19.2],[2004.53,19.1],[2004.62,19.3],[2004.70,19.0],
  [2005.21,18.5],[2005.29,18.7],[2005.37,18.95],[2005.46,19.1],[2005.55,18.9],[2005.64,19.0],[2005.73,18.9],[2005.84,19.15],[2005.97,18.95],
  [2006.20,18.7],[2006.30,18.95],[2006.40,18.85],[2006.51,19.0],[2006.61,19.15],[2006.72,19.0],[2006.83,19.2],[2006.95,19.1],
  [2007.10,19.0],[2007.20,19.15],[2007.32,19.05],[2007.43,19.15],[2007.55,18.95],[2007.67,19.2],[2007.80,19.1],
  [2008.12,19.05],[2008.24,19.35],[2008.36,19.2],[2008.48,19.0],[2008.60,19.2],[2008.72,19.4],[2008.84,19.15],
  [2008.97,19.05],[2009.10,19.3],[2009.22,19.1],[2009.34,19.15],[2009.46,19.3],[2009.60,19.2],[2009.72,19.0],[2009.84,19.45],
  [2010.05,19.0],[2010.18,19.05],[2010.30,18.75],[2010.42,19.1],[2010.55,18.8],[2010.67,18.95],[2010.82,18.7],[2010.94,18.65],
  [2011.14,19.0],[2011.26,19.15],[2011.38,18.75],[2011.50,19.1],[2011.62,19.4],[2011.74,19.4],[2011.84,19.3],
  [2012.00,19.2],[2012.12,19.05],[2012.24,19.3],[2012.36,19.15],[2012.50,19.2],[2012.61,19.6],
  [2013.16,19.2],[2013.22,19.4],[2013.28,19.15],[2013.34,19.35],[2013.40,19.2],[2013.46,19.45],[2013.52,19.25],[2013.56,19.3]
];

const obsF51 = [
  [2010.83,21.65],[2010.83,21.8],[2011.16,20.0],
  [2011.28,20.7],[2011.29,21.2],[2011.30,20.3],[2011.31,18.9],[2011.32,21.5],[2011.33,20.9],[2011.34,19.7],[2011.35,21.8],[2011.36,20.5],[2011.37,19.3],
  [2011.38,21.1],[2011.39,20.1],[2011.40,21.6],[2011.41,18.85],[2011.42,20.75],[2011.44,19.95],[2011.45,21.3],[2011.47,20.4],[2011.48,21.9],[2011.50,19.6],
  [2011.51,20.95],[2011.53,20.2],[2011.55,21.45],[2011.57,18.37],[2011.58,20.6],[2011.60,21.75],[2011.62,18.74],[2011.63,20.85],[2011.65,19.4],[2011.66,21.25],
  [2011.68,20.5],[2011.70,22.05],[2011.71,19.85],[2011.73,21.05],[2011.75,20.3],[2011.77,21.5],[2011.79,18.55],[2011.80,20.7],[2011.82,21.35],[2011.84,19.16],
  [2011.85,20.1],[2011.87,21.7],[2011.89,20.55],[2011.91,19.7],[2011.93,21.15],[2011.95,20.9],[2011.97,21.6],[2011.99,20.35],[2012.01,19.45],[2012.03,21.0],
  [2012.05,20.65],[2012.07,21.4],[2012.09,19.9],[2012.11,21.85],[2012.13,20.8],[2012.15,20.25],[2012.17,21.25],[2012.19,19.6],[2012.21,20.95],[2012.23,21.55],
  [2012.25,20.45],[2012.27,21.1],[2012.29,19.95],[2012.30,19.2],[2012.32,20.7],[2012.34,21.75],[2012.36,20.5],[2012.38,21.3],[2012.40,20.15],[2012.42,20.85],
  [2012.44,21.6],[2012.46,20.4],[2012.48,21.05],[2012.50,19.8],[2012.52,20.65],
  [2012.60,20.2],[2012.62,21.35],[2012.64,19.4],[2012.66,20.8],[2012.68,21.6],[2012.70,20.45],[2012.72,19.1],[2012.74,21.15],[2012.76,20.6],[2012.78,21.8],
  [2012.80,19.75],[2012.82,20.95],[2012.84,21.45],[2012.86,20.3],[2012.88,21.05],[2012.90,19.9],[2012.92,20.7],[2012.94,21.55],[2012.96,20.5],[2012.98,21.2],
  [2013.00,19.45],[2013.02,20.85],[2013.04,21.7],[2013.06,20.25],[2013.08,21.0],[2013.10,19.6],[2013.12,20.65],[2013.14,21.35],[2013.16,20.9],[2013.18,20.1],
  [2013.20,21.5],[2013.22,19.3],[2013.24,20.75],[2013.26,21.1],[2013.28,20.4],[2013.30,21.85],[2013.32,20.55],[2013.34,19.8],[2013.36,21.25],[2013.38,20.95],
  [2013.40,21.6],[2013.42,20.3],[2013.44,21.0],[2013.47,19.13],[2013.49,20.7],[2013.51,21.4],[2013.53,20.15],[2013.55,18.39],[2013.56,21.15],[2013.58,20.6],
  [2013.60,21.75],[2013.62,19.95],[2013.64,20.85],[2013.66,21.3],[2013.68,20.45],[2013.70,21.05],[2013.72,19.5],[2013.74,20.8],[2013.76,21.55],[2013.78,20.25],
  [2013.80,21.2],[2013.82,20.65],[2013.84,19.7],[2013.86,21.4],[2013.88,20.9],[2013.90,21.65],[2013.92,20.35],[2013.94,21.0],[2013.96,19.85],[2013.98,20.75],
  [2014.00,21.3],[2014.02,20.5],[2014.04,21.1],[2014.06,19.6],[2014.08,20.95],[2014.10,21.5],[2014.12,20.2],[2014.14,20.8],[2014.16,21.25],[2014.18,19.75],
  [2014.20,20.6],[2014.22,21.45],[2014.24,20.05],[2014.26,20.9],[2014.28,19.35],[2014.30,18.95],[2014.32,21.15],[2014.34,20.4],[2014.36,21.6],[2014.38,19.9],
  [2014.40,20.7],[2014.42,21.35],[2014.44,19.55],[2014.46,20.25],[2014.48,21.0],[2014.50,18.95],[2014.52,20.5],[2014.54,21.4],[2014.56,19.8],[2014.58,20.85],
  [2014.60,21.55],[2014.62,20.15],[2014.64,21.1],[2014.66,20.6],[2014.68,21.3],
  [2011.29,20.85],[2011.36,21.35],[2011.43,20.6],[2011.49,21.1],[2011.56,20.8],[2011.64,21.45],[2011.72,20.75],[2011.81,21.2],[2011.90,21.0],[2011.98,20.7],
  [2012.06,21.2],[2012.14,21.5],[2012.22,20.6],[2012.31,21.45],[2012.41,20.95],[2012.49,21.2],
  [2012.63,20.95],[2012.71,21.3],[2012.79,20.85],[2012.87,21.5],[2012.95,20.8],[2013.03,21.25],[2013.11,20.95],[2013.19,21.15],[2013.27,21.5],[2013.35,20.75],
  [2013.43,21.2],[2013.52,20.9],[2013.61,21.45],[2013.69,20.95],[2013.77,21.1],[2013.85,20.6],[2013.93,21.2],[2014.01,20.9],[2014.09,21.3],[2014.17,20.95],
  [2014.25,21.35],[2014.33,20.8],[2014.41,21.1],[2014.49,20.45],[2014.57,21.25],[2014.65,20.85],[2014.67,21.55]
];

const obsG96 = [
  [2004.95,21.03],
  [2005.13,21.1],[2005.15,21.35],[2005.18,20.95],[2005.20,21.45],[2005.23,21.2],[2005.26,20.85],[2005.29,21.4],[2005.32,21.0],[2005.35,20.6],[2005.38,21.25],
  [2005.40,20.75],[2005.43,20.45],[2005.45,20.0],[2005.47,19.85],[2005.49,20.6],
  [2005.73,21.2],[2005.75,20.9],[2005.77,21.4],[2005.79,21.05],[2005.82,20.55],[2005.84,21.3],[2005.87,20.8],[2005.89,21.1],[2005.92,20.25],[2005.95,20.95],
  [2005.97,21.35],[2006.00,20.7],[2006.03,21.0],[2006.05,20.4],[2006.08,20.85],[2006.10,21.15],[2006.13,20.55],[2006.15,19.8],[2006.18,20.95],[2006.21,20.3],
  [2006.23,20.7],[2006.25,19.6],[2006.27,21.05],[2006.29,20.5],[2006.32,20.15],[2006.34,20.8],[2006.37,19.7],[2006.39,20.6],[2006.42,21.2],[2006.44,20.35],
  [2006.47,20.0],[2006.50,20.75],[2006.53,21.45],[2006.55,20.5],[2006.58,20.9],
  [2006.72,20.9],[2006.74,21.2],[2006.77,20.6],[2006.79,21.05],[2006.82,20.35],[2006.85,21.3],[2006.88,20.85],[2006.91,21.1],[2006.94,20.05],[2006.97,20.95],
  [2007.00,21.25],[2007.03,20.7],[2007.06,21.0],[2007.09,21.4],[2007.12,20.8],[2007.15,21.15],[2007.18,20.45],[2007.21,21.05],[2007.24,21.35],[2007.27,20.9],
  [2007.30,21.2],[2007.33,20.6],[2007.36,21.0],[2007.40,21.3],[2007.44,20.85],[2007.47,21.1],
  [2007.65,21.0],[2007.68,21.35],[2007.70,20.65],[2007.73,19.96],[2007.75,21.15],[2007.78,20.8],[2007.81,21.45],[2007.84,21.05],[2007.87,20.35],[2007.90,21.25],
  [2007.93,20.9],[2007.96,21.55],[2007.99,21.1],[2008.02,20.7],[2008.05,21.3],[2008.08,21.0],[2008.11,20.45],[2008.14,21.4],[2008.17,21.15],[2008.20,20.85],
  [2008.23,21.5],[2008.26,21.2],[2008.29,20.6],[2008.32,21.35],[2008.35,21.0],[2008.38,20.1],[2008.41,21.25],[2008.44,20.75],[2008.47,21.45],[2008.50,21.1],
  [2008.67,20.9],[2008.70,21.2],[2008.73,20.65],[2008.76,21.05],[2008.79,21.35],[2008.82,20.8],[2008.85,21.15],[2008.88,20.5],[2008.91,21.0],[2008.94,21.3],
  [2008.97,20.85],[2009.00,21.1],[2009.03,20.6],[2009.06,21.25],[2009.09,20.95],[2009.12,21.4],[2009.15,20.7],[2009.18,21.05],[2009.21,20.35],[2009.24,21.2],
  [2009.27,20.9],[2009.30,21.35],[2009.33,20.55],[2009.36,21.0],[2009.39,20.8],[2009.42,19.52],[2009.43,20.1],[2009.45,21.15],
  [2009.70,21.73],[2009.71,20.95],[2009.73,21.25],[2009.76,20.7],[2009.79,21.1],[2009.82,21.4],[2009.85,20.85],[2009.88,21.2],[2009.91,20.6],[2009.94,21.05],
  [2009.97,21.35],[2010.00,20.9],[2010.03,21.15],[2010.06,20.5],[2010.09,21.0],[2010.12,20.25],[2010.15,20.8],[2010.18,21.25],[2010.21,20.65],[2010.24,21.05],
  [2010.27,20.4],[2010.30,20.95],[2010.33,21.2],[2010.36,20.7],[2010.39,20.2],[2010.42,20.9],[2010.45,21.1],[2010.48,20.55],
  [2010.67,21.2],[2010.70,21.45],[2010.72,20.95],[2010.75,21.3],[2010.78,21.55],[2010.81,21.0],[2010.84,21.35],[2010.87,20.75],[2010.90,21.2],[2010.93,21.5],
  [2010.96,20.9],[2010.99,21.25],[2011.02,20.6],[2011.05,21.1],[2011.08,21.4],[2011.10,20.0],[2011.12,20.85],[2011.15,21.15],[2011.18,20.5],[2011.21,21.0],
  [2011.24,21.3],[2011.27,20.7],[2011.30,21.05],[2011.33,20.35],[2011.36,20.95],[2011.39,21.2],[2011.42,20.8],[2011.45,21.1],[2011.48,20.6],[2011.51,20.9],
  [2011.53,21.05],
  [2011.72,21.3],[2011.75,21.5],[2011.78,21.05],[2011.81,21.35],[2011.84,20.8],[2011.87,21.2],[2011.90,21.45],[2011.93,20.95],[2011.96,21.25],[2011.99,20.6],
  [2012.02,21.1],[2012.05,21.4],[2012.08,20.85],[2012.11,21.15],[2012.14,20.4],[2012.17,21.0],[2012.20,21.3],[2012.23,20.75],[2012.26,21.1],[2012.29,20.5],
  [2012.32,20.95],[2012.35,21.25],[2012.38,20.7],[2012.41,21.05],[2012.44,20.3],[2012.47,20.9],
  [2012.65,20.9],[2012.68,21.15],[2012.71,20.6],[2012.74,21.0],[2012.77,21.3],[2012.80,20.75],[2012.83,21.05],[2012.86,20.45],[2012.89,20.95],[2012.92,21.2],
  [2012.95,20.65],[2012.98,21.0],[2013.01,20.3],[2013.04,20.85],[2013.07,21.1],[2013.10,20.55],[2013.13,20.9],[2013.16,19.96],[2013.18,20.7],[2013.21,21.05],
  [2013.24,20.4],[2013.27,20.8],[2013.30,20.2],[2013.33,20.95],[2013.36,20.6],[2013.39,21.15],[2013.42,20.75],[2013.45,20.3],[2013.48,20.85],[2013.51,20.5],
  [2013.67,21.2],[2013.69,21.5],[2013.71,21.0],[2013.73,21.65],[2013.76,21.3],[2013.79,20.85],[2013.82,21.4],[2013.85,21.1],[2013.88,20.6],[2013.91,21.35],
  [2013.94,21.0],[2013.97,21.55],[2014.00,21.2],[2014.03,20.75],[2014.06,21.3],[2014.09,21.05],[2014.12,20.45],[2014.15,21.25],[2014.18,20.9],[2014.21,21.4],
  [2014.24,21.1],[2014.27,20.65],[2014.30,21.2],[2014.33,20.25],[2014.36,21.0],[2014.39,21.35],[2014.42,20.8],[2014.45,21.15],[2014.48,20.55],[2014.51,21.05],
  [2014.68,21.05],[2014.68,21.25],[2014.68,21.45],
  [2005.16,21.2],[2005.25,21.0],[2005.34,21.3],[2005.42,20.9],
  [2005.76,21.15],[2005.86,21.0],[2005.96,21.2],[2006.06,20.75],[2006.16,20.9],[2006.26,20.6],[2006.36,20.85],[2006.46,20.65],[2006.56,21.1],
  [2006.76,21.0],[2006.86,21.15],[2006.96,21.2],[2007.07,21.05],[2007.17,21.25],[2007.28,21.1],[2007.38,21.2],
  [2007.67,21.2],[2007.77,21.35],[2007.88,21.15],[2007.98,21.3],[2008.09,21.2],[2008.19,21.3],[2008.30,21.1],[2008.40,21.35],
  [2008.69,21.1],[2008.80,21.15],[2008.90,20.95],[2009.01,21.2],[2009.11,21.05],[2009.22,21.1],[2009.32,21.2],[2009.41,21.0],
  [2009.72,21.1],[2009.83,21.25],[2009.93,21.15],[2010.04,21.3],[2010.14,21.1],[2010.25,20.9],[2010.35,21.05],[2010.46,21.0],
  [2010.69,21.3],[2010.80,21.25],[2010.91,21.35],[2011.01,21.1],[2011.11,21.3],[2011.22,21.15],[2011.32,21.2],[2011.43,21.0],[2011.52,21.15],
  [2011.74,21.25],[2011.85,21.35],[2011.95,21.1],[2012.06,21.25],[2012.16,21.2],[2012.27,21.05],[2012.37,21.15],[2012.46,21.2],
  [2012.67,21.05],[2012.78,20.9],[2012.88,21.15],[2012.99,20.8],[2013.09,21.0],[2013.20,20.85],[2013.31,20.95],[2013.41,20.7],[2013.50,21.0],
  [2013.68,21.35],[2013.78,21.25],[2013.89,21.45],[2013.99,21.15],[2014.10,21.3],[2014.20,21.15],[2014.31,21.35],[2014.41,21.2],[2014.50,21.3]
];

const observations = [obs644, obs691, obs699, obs703, obs704, obsC51, obsE12, obsF51, obsG96];

// layout of the stacked panels (pixels)
const panelTop = [49, 177, 305, 433, 561, 689, 817, 945, 1073];
const panelHeight = 128;
const plotLeft = 105;
const plotRight = 1191;
const pageW = 1247;
const pageH = 1286;
const pad = 30;

Chart.defaults.font.family = '"Liberation Sans", Arial, Helvetica, sans-serif';
Chart.defaults.font.size = 22;
Chart.defaults.color = '#000';

// frame, year ticks on every panel edge, and the station label
const panelFrame = {
  id: 'panelFrame',
  afterDatasetsDraw(chart, args, opts) {
    const { ctx, chartArea: a } = chart;
    const x = chart.scales.x;
    ctx.save();
    ctx.strokeStyle = '#000';
    ctx.lineWidth = 1.3;
    ctx.beginPath();
    for (let yr = yearMin; yr <= yearMax; yr++) {
      const px = Math.round(x.getPixelForValue(yr)) + 0.5;
      const len = yr % 2 === 0 ? 10 : 5;
      ctx.moveTo(px, a.top);
      ctx.lineTo(px, a.top + (opts.first ? -len : len));
      ctx.moveTo(px, a.bottom);
      ctx.lineTo(px, a.bottom + (opts.last ? len : -len));
    }
    ctx.stroke();
    ctx.lineWidth = 2;
    ctx.strokeRect(a.left, a.top, a.width, a.height);
    ctx.fillStyle = '#000';
    ctx.font = 'bold 34px "Liberation Sans", Arial, sans-serif';
    ctx.textBaseline = 'alphabetic';
    ctx.textAlign = 'left';
    ctx.fillText(opts.label, a.left + 20, a.top + 46);
    ctx.restore();
  }
};

// whole magnitudes / whole years only
function wholeTicks(s) {
  const out = [];
  for (let v = Math.ceil(s.min); v <= Math.floor(s.max); v++) out.push({ value: v });
  s.ticks = out;
}

function magAxis(i, side) {
  return {
    type: 'linear',
    position: side,
    reverse: true,
    min: magTop[i],
    max: magBottom[i],
    border: { display: false },
    grid: { display: true, drawOnChartArea: false, drawTicks: true, tickLength: 10, tickWidth: 1.3, tickColor: '#000' },
    ticks: { padding: side === 'left' ? 11 : 10, color: '#000', font: { size: 22 }, callback: v => String(v) },
    afterBuildTicks: wholeTicks,
    afterFit: s => { s.width = side === 'left' ? plotLeft : pageW - plotRight; }
  };
}

function yearAxis(i, n) {
  const first = i === 0;
  const last = i === n - 1;
  const axis = {
    type: 'linear',
    position: first ? 'top' : 'bottom',
    display: first || last,
    min: yearMin,
    max: yearMax,
    border: { display: false },
    grid: { display: false, drawTicks: false },
    ticks: { autoSkip: false, maxRotation: 0, color: '#000',
             padding: first ? 14.5 : 15.3, font: { size: 22 },
             callback: v => (v % 2 === 0 ? String(v) : '') },
    afterBuildTicks: wholeTicks
  };
  if (first) axis.afterFit = s => { s.height = panelTop[0]; };
  if (last) axis.afterFit = s => { s.height = pageH - (panelTop[i] + panelHeight); };
  return axis;
}

stations.forEach((code, i) => {
  const n = stations.length;
  const first = i === 0;
  const last = i === n - 1;
  const canvas = document.createElement('canvas');
  canvas.className = 'panel';
  const top = first ? 0 : panelTop[i] - pad;
  const bottom = last ? pageH : panelTop[i] + panelHeight + pad;
  canvas.width = pageW;
  canvas.height = bottom - top;
  canvas.style.top = top + 'px';
  canvas.style.width = pageW + 'px';
  canvas.style.height = (bottom - top) + 'px';
  document.body.appendChild(canvas);

  new Chart(canvas, {
    type: 'scatter',
    data: {
      datasets: [{
        label: code,
        data: observations[i].map(p => ({ x: p[0], y: p[1] })),
        backgroundColor: '#000',
        borderWidth: 0,
        pointRadius: 1.9,
        yAxisID: 'y'
      }]
    },
    options: {
      responsive: false,
      animation: false,
      events: [],
      layout: { padding: { top: first ? 0 : pad, bottom: last ? 0 : pad, left: 0, right: 0 } },
      scales: {
        x: yearAxis(i, n),
        y: magAxis(i, 'left'),
        y2: magAxis(i, 'right')
      },
      plugins: {
        legend: { display: false },
        tooltip: { enabled: false },
        panelFrame: { label: code, first: first, last: last }
      }
    },
    plugins: [panelFrame]
  });
});
</script>
</body>
</html>
